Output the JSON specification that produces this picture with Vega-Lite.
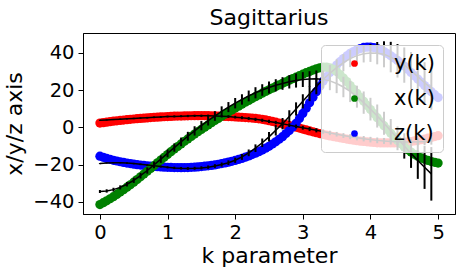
{
"$schema": "https://vega.github.io/schema/vega-lite/v6.json",
"width": 372, "height": 181,
"autosize": "none",
"padding": {"left": 83, "top": 33, "right": 8, "bottom": 62},
"background": "white",
"title": {"text": "Sagittarius", "fontSize": 22, "font": "DejaVu Sans", "fontWeight": "normal", "color": "black", "offset": 3},
"config": {
  "view": {"stroke": "black", "strokeWidth": 1},
  "axis": {"grid": false, "domainColor": "black", "tickColor": "black", "labelColor": "black", "titleColor": "black", "labelFont": "DejaVu Sans", "titleFont": "DejaVu Sans", "labelFontSize": 19.5, "titleFontSize": 22, "titleFontWeight": "normal", "tickSize": 5, "labelPadding": 4}
},
"datasets": {
"scatter": [
{"k":0,"x":-41.5,"y":2.3,"z":-15.5},{"k":0.05,"x":-40.5,"y":2.55,"z":-16.1},{"k":0.1,"x":-39.5,"y":2.8,"z":-16.7},{"k":0.15,"x":-38.4,"y":3.05,"z":-17.2},{"k":0.2,"x":-37.3,"y":3.3,"z":-17.7},{"k":0.25,"x":-36.1,"y":3.5,"z":-18.1},{"k":0.3,"x":-34.8,"y":3.7,"z":-18.5},{"k":0.35,"x":-33.5,"y":3.9,"z":-18.85},{"k":0.4,"x":-32.2,"y":4.1,"z":-19.2},{"k":0.45,"x":-30.9,"y":4.3,"z":-19.5},
{"k":0.5,"x":-29.5,"y":4.5,"z":-19.8},{"k":0.55,"x":-28.1,"y":4.65,"z":-20.05},{"k":0.6,"x":-26.6,"y":4.8,"z":-20.3},{"k":0.65,"x":-25.1,"y":4.95,"z":-20.5},{"k":0.7,"x":-23.6,"y":5.1,"z":-20.7},{"k":0.75,"x":-22.1,"y":5.25,"z":-20.85},{"k":0.8,"x":-20.6,"y":5.4,"z":-21.0},{"k":0.85,"x":-19.1,"y":5.5,"z":-21.15},{"k":0.9,"x":-17.6,"y":5.6,"z":-21.3},{"k":0.95,"x":-16.1,"y":5.7,"z":-21.4},
{"k":1.0,"x":-14.6,"y":5.8,"z":-21.5},{"k":1.05,"x":-13.1,"y":5.9,"z":-21.55},{"k":1.1,"x":-11.7,"y":6.0,"z":-21.6},{"k":1.15,"x":-10.3,"y":6.05,"z":-21.65},{"k":1.2,"x":-8.9,"y":6.1,"z":-21.7},{"k":1.25,"x":-7.5,"y":6.15,"z":-21.65},{"k":1.3,"x":-6.2,"y":6.2,"z":-21.6},{"k":1.35,"x":-4.9,"y":6.25,"z":-21.5},{"k":1.4,"x":-3.6,"y":6.3,"z":-21.4},{"k":1.45,"x":-2.3,"y":6.3,"z":-21.25},
{"k":1.5,"x":-1.1,"y":6.3,"z":-21.1},{"k":1.55,"x":0.1,"y":6.3,"z":-20.9},{"k":1.6,"x":1.3,"y":6.3,"z":-20.7},{"k":1.65,"x":2.5,"y":6.25,"z":-20.45},{"k":1.7,"x":3.7,"y":6.2,"z":-20.2},{"k":1.75,"x":4.8,"y":6.1,"z":-19.85},{"k":1.8,"x":6.0,"y":6.0,"z":-19.5},{"k":1.85,"x":7.1,"y":5.9,"z":-19.1},{"k":1.9,"x":8.2,"y":5.8,"z":-18.7},{"k":1.95,"x":9.3,"y":5.7,"z":-18.25},
{"k":2.0,"x":10.4,"y":5.6,"z":-17.8},{"k":2.05,"x":11.4,"y":5.5,"z":-17.25},{"k":2.1,"x":12.5,"y":5.4,"z":-16.7},{"k":2.15,"x":13.5,"y":5.28,"z":-16.05},{"k":2.2,"x":14.5,"y":5.15,"z":-15.4},{"k":2.25,"x":15.5,"y":5.0,"z":-14.65},{"k":2.3,"x":16.5,"y":4.8,"z":-13.9},{"k":2.35,"x":17.4,"y":4.57,"z":-13.05},{"k":2.4,"x":18.4,"y":4.3,"z":-12.2},{"k":2.45,"x":19.3,"y":3.97,"z":-11.2},
{"k":2.5,"x":20.2,"y":3.6,"z":-10.2},{"k":2.55,"x":21.1,"y":3.2,"z":-9.0},{"k":2.6,"x":22.0,"y":2.8,"z":-7.8},{"k":2.65,"x":22.8,"y":2.35,"z":-6.4},{"k":2.7,"x":23.7,"y":1.9,"z":-5.0},{"k":2.75,"x":24.5,"y":1.45,"z":-3.35},{"k":2.8,"x":25.4,"y":1.0,"z":-1.7},{"k":2.85,"x":26.2,"y":0.55,"z":0.2},{"k":2.9,"x":27.0,"y":0.1,"z":2.2},{"k":2.95,"x":27.8,"y":-0.4,"z":4.8},
{"k":3.0,"x":28.6,"y":-0.9,"z":7.5},{"k":3.05,"x":29.4,"y":-1.4,"z":10.3},{"k":3.1,"x":30.1,"y":-1.9,"z":13.2},{"k":3.15,"x":30.8,"y":-2.4,"z":16.2},{"k":3.2,"x":31.5,"y":-2.9,"z":19.2},{"k":3.25,"x":32.0,"y":-3.35,"z":22.0},{"k":3.3,"x":32.4,"y":-3.8,"z":24.8},{"k":3.35,"x":32.4,"y":-4.2,"z":27.2},{"k":3.4,"x":32.0,"y":-4.6,"z":29.5},{"k":3.45,"x":31.2,"y":-4.95,"z":31.5},
{"k":3.5,"x":30.0,"y":-5.3,"z":33.5},{"k":3.55,"x":28.4,"y":-5.65,"z":35.3},{"k":3.6,"x":26.5,"y":-6.0,"z":37.0},{"k":3.65,"x":24.6,"y":-6.3,"z":38.4},{"k":3.7,"x":22.5,"y":-6.6,"z":39.8},{"k":3.75,"x":20.4,"y":-6.9,"z":40.8},{"k":3.8,"x":18.3,"y":-7.2,"z":41.8},{"k":3.85,"x":16.2,"y":-7.4,"z":42.4},{"k":3.9,"x":14.0,"y":-7.6,"z":43.0},{"k":3.95,"x":11.8,"y":-7.8,"z":43.1},
{"k":4.0,"x":9.6,"y":-8.0,"z":43.2},{"k":4.05,"x":7.4,"y":-8.15,"z":42.9},{"k":4.1,"x":5.2,"y":-8.3,"z":42.4},{"k":4.15,"x":3.0,"y":-8.35,"z":41.6},{"k":4.2,"x":0.9,"y":-8.4,"z":40.8},{"k":4.25,"x":-1.2,"y":-8.4,"z":39.7},{"k":4.3,"x":-3.2,"y":-8.4,"z":38.5},{"k":4.35,"x":-5.1,"y":-8.35,"z":37.3},{"k":4.4,"x":-7.0,"y":-8.3,"z":36.0},{"k":4.45,"x":-8.8,"y":-8.15,"z":34.5},
{"k":4.5,"x":-10.5,"y":-8.0,"z":33.0},{"k":4.55,"x":-12.0,"y":-7.8,"z":31.3},{"k":4.6,"x":-13.3,"y":-7.6,"z":29.5},{"k":4.65,"x":-14.5,"y":-7.3,"z":27.8},{"k":4.7,"x":-15.5,"y":-7.0,"z":26.0},{"k":4.75,"x":-16.4,"y":-6.65,"z":24.3},{"k":4.8,"x":-17.2,"y":-6.3,"z":22.5},{"k":4.85,"x":-17.8,"y":-5.85,"z":20.9},{"k":4.9,"x":-18.4,"y":-5.4,"z":19.2},{"k":4.95,"x":-18.8,"y":-4.95,"z":17.6},
{"k":5.0,"x":-19.2,"y":-4.5,"z":16.0}
],
"model": [
{"k":0,"mx":-34.5,"ex":0.8,"my":3.8,"ey":0.3,"mz":-19.5,"ez":0.3},
{"k":0.1,"mx":-34.2,"ex":0.9,"my":4.0,"ey":0.3,"mz":-19.2,"ez":0.3},
{"k":0.2,"mx":-33.5,"ex":1.0,"my":4.2,"ey":0.3,"mz":-19.0,"ez":0.35},
{"k":0.3,"mx":-32.3,"ex":1.1,"my":4.4,"ey":0.35,"mz":-19.0,"ez":0.35},
{"k":0.4,"mx":-30.6,"ex":1.2,"my":4.6,"ey":0.35,"mz":-19.2,"ez":0.4},
{"k":0.5,"mx":-28.5,"ex":1.4,"my":4.8,"ey":0.4,"mz":-19.5,"ez":0.4},
{"k":0.6,"mx":-26.0,"ex":1.5,"my":5.0,"ey":0.4,"mz":-19.9,"ez":0.45},
{"k":0.7,"mx":-23.2,"ex":1.7,"my":5.2,"ey":0.45,"mz":-20.3,"ez":0.5},
{"k":0.8,"mx":-20.2,"ex":1.8,"my":5.4,"ey":0.45,"mz":-20.7,"ez":0.5},
{"k":0.9,"mx":-17.1,"ex":2.0,"my":5.6,"ey":0.5,"mz":-21.1,"ez":0.55},
{"k":1.0,"mx":-14.0,"ex":2.1,"my":5.8,"ey":0.5,"mz":-21.5,"ez":0.6},
{"k":1.1,"mx":-10.9,"ex":2.2,"my":5.9,"ey":0.55,"mz":-21.8,"ez":0.65},
{"k":1.2,"mx":-7.8,"ex":2.3,"my":6.0,"ey":0.55,"mz":-22.0,"ez":0.7},
{"k":1.3,"mx":-4.8,"ex":2.4,"my":6.1,"ey":0.6,"mz":-22.1,"ez":0.75},
{"k":1.4,"mx":-1.9,"ex":2.5,"my":6.2,"ey":0.6,"mz":-22.0,"ez":0.8},
{"k":1.5,"mx":0.9,"ex":2.5,"my":6.2,"ey":0.65,"mz":-21.8,"ez":0.85},
{"k":1.6,"mx":3.6,"ex":2.6,"my":6.2,"ey":0.65,"mz":-21.4,"ez":0.9},
{"k":1.7,"mx":6.1,"ex":2.6,"my":6.1,"ey":0.7,"mz":-20.8,"ez":1.0},
{"k":1.8,"mx":8.6,"ex":2.7,"my":6.0,"ey":0.7,"mz":-20.0,"ez":1.1},
{"k":1.9,"mx":10.9,"ex":2.7,"my":5.8,"ey":0.75,"mz":-19.0,"ez":1.25},
{"k":2.0,"mx":13.0,"ex":2.8,"my":5.5,"ey":0.75,"mz":-17.7,"ez":1.4},
{"k":2.1,"mx":15.0,"ex":2.8,"my":5.2,"ey":0.8,"mz":-15.9,"ez":1.6},
{"k":2.2,"mx":16.9,"ex":2.9,"my":4.8,"ey":0.8,"mz":-13.7,"ez":1.8},
{"k":2.3,"mx":18.6,"ex":3.0,"my":4.3,"ey":0.85,"mz":-11.2,"ez":2.05},
{"k":2.4,"mx":20.1,"ex":3.1,"my":3.8,"ey":0.85,"mz":-8.3,"ez":2.3},
{"k":2.5,"mx":21.4,"ex":3.2,"my":3.2,"ey":0.9,"mz":-5.1,"ez":2.55},
{"k":2.6,"mx":22.6,"ex":3.3,"my":2.6,"ey":0.9,"mz":-1.6,"ez":2.8},
{"k":2.7,"mx":23.6,"ex":3.4,"my":1.9,"ey":0.95,"mz":2.0,"ez":3.05},
{"k":2.8,"mx":24.5,"ex":3.6,"my":1.2,"ey":1.0,"mz":5.9,"ez":3.3},
{"k":2.9,"mx":25.2,"ex":3.8,"my":0.5,"ey":1.0,"mz":9.9,"ez":3.55},
{"k":3.0,"mx":25.7,"ex":4.0,"my":-0.2,"ey":1.05,"mz":14.0,"ez":3.8},
{"k":3.1,"mx":26.0,"ex":4.2,"my":-0.9,"ey":1.1,"mz":18.1,"ez":4.0},
{"k":3.2,"mx":26.1,"ex":4.5,"my":-1.6,"ey":1.1,"mz":22.0,"ez":4.2},
{"k":3.3,"mx":25.8,"ex":4.8,"my":-2.3,"ey":1.15,"mz":25.7,"ez":4.3},
{"k":3.4,"mx":25.0,"ex":5.0,"my":-3.0,"ey":1.2,"mz":29.1,"ez":4.4},
{"k":3.5,"mx":23.6,"ex":5.2,"my":-3.7,"ey":1.25,"mz":32.1,"ez":4.5},
{"k":3.6,"mx":21.7,"ex":5.5,"my":-4.4,"ey":1.3,"mz":34.8,"ez":4.6},
{"k":3.7,"mx":19.3,"ex":5.7,"my":-5.0,"ey":1.35,"mz":37.0,"ez":4.6},
{"k":3.8,"mx":16.5,"ex":5.9,"my":-5.6,"ey":1.4,"mz":38.6,"ez":4.6},
{"k":3.9,"mx":13.3,"ex":6.0,"my":-6.1,"ey":1.45,"mz":39.6,"ez":4.7},
{"k":4.0,"mx":9.8,"ex":6.1,"my":-6.6,"ey":1.5,"mz":40.0,"ez":4.8},
{"k":4.1,"mx":6.1,"ex":6.2,"my":-7.0,"ey":1.55,"mz":39.9,"ez":6.0},
{"k":4.2,"mx":2.2,"ex":6.2,"my":-7.3,"ey":1.6,"mz":39.3,"ez":7.0},
{"k":4.3,"mx":-1.8,"ex":6.3,"my":-7.6,"ey":1.65,"mz":37.8,"ez":8.2},
{"k":4.4,"mx":-5.9,"ex":6.4,"my":-7.8,"ey":1.7,"mz":35.8,"ez":9.0},
{"k":4.5,"mx":-10.0,"ex":6.8,"my":-7.9,"ey":1.75,"mz":33.5,"ez":9.5},
{"k":4.6,"mx":-14.0,"ex":7.8,"my":-7.9,"ey":1.8,"mz":30.5,"ez":10.0},
{"k":4.7,"mx":-17.8,"ex":9.9,"my":-7.8,"ey":1.85,"mz":27.3,"ez":10.5},
{"k":4.8,"mx":-21.5,"ex":11.6,"my":-7.6,"ey":1.9,"mz":24.0,"ez":11.0},
{"k":4.9,"mx":-25.0,"ex":14.4,"my":-7.3,"ey":2.0,"mz":21.0,"ez":11.5}
]
},
"encoding": {
  "x": {"field": "k", "type": "quantitative", "scale": {"domain": [-0.25, 5.25], "nice": false, "zero": false}, "axis": {"values": [0,1,2,3,4,5], "title": "k parameter", "titlePadding": 4}}
},
"layer": [
  {"data": {"name": "scatter"}, "mark": {"type": "point", "filled": true, "size": 85, "opacity": 1},
   "encoding": {
     "y": {"field": "y", "type": "quantitative", "title": "x/y/z axis", "scale": {"domain": [-46.6, 50.75], "nice": false, "zero": false}, "axis": {"values": [-40,-20,0,20,40], "titlePadding": 6}},
     "color": {"datum": "y(k)", "scale": {"domain": ["y(k)","x(k)","z(k)"], "range": ["#ff0000","#008000","#0000ff"]},
       "legend": {"orient": "none", "legendX": 238, "legendY": 12, "title": null, "padding": 8, "symbolOffset": 15, "labelOffset": 29, "rowPadding": 13, "symbolSize": 45, "symbolType": "circle", "symbolStrokeWidth": 0, "labelFont": "DejaVu Sans", "labelFontSize": 21, "labelColor": "black", "fillColor": "rgba(255,255,255,0.8)", "strokeColor": "#cccccc", "cornerRadius": 4}}
   }},
  {"data": {"name": "scatter"}, "mark": {"type": "point", "filled": true, "size": 85, "opacity": 1},
   "encoding": {
     "y": {"field": "z", "type": "quantitative", "title": "x/y/z axis"},
     "color": {"datum": "z(k)"}
   }},
  {"data": {"name": "scatter"}, "mark": {"type": "point", "filled": true, "size": 85, "opacity": 1},
   "encoding": {
     "y": {"field": "x", "type": "quantitative", "title": "x/y/z axis"},
     "color": {"datum": "x(k)"}
   }},
  {"data": {"name": "model"}, "mark": {"type": "line", "color": "black", "strokeWidth": 1.5},
   "encoding": {"y": {"field": "my", "type": "quantitative", "title": "x/y/z axis"}}},
  {"data": {"name": "model"}, "mark": {"type": "errorbar", "ticks": false, "thickness": 2, "color": "black"},
   "encoding": {"y": {"field": "my", "type": "quantitative", "title": "x/y/z axis"}, "yError": {"field": "ey"}}},
  {"data": {"name": "model"}, "mark": {"type": "line", "color": "black", "strokeWidth": 1.5},
   "encoding": {"y": {"field": "mx", "type": "quantitative", "title": "x/y/z axis"}}},
  {"data": {"name": "model"}, "mark": {"type": "errorbar", "ticks": false, "thickness": 2, "color": "black"},
   "encoding": {"y": {"field": "mx", "type": "quantitative", "title": "x/y/z axis"}, "yError": {"field": "ex"}}},
  {"data": {"name": "model"}, "mark": {"type": "line", "color": "black", "strokeWidth": 1.5},
   "encoding": {"y": {"field": "mz", "type": "quantitative", "title": "x/y/z axis"}}},
  {"data": {"name": "model"}, "mark": {"type": "errorbar", "ticks": false, "thickness": 2, "color": "black"},
   "encoding": {"y": {"field": "mz", "type": "quantitative", "title": "x/y/z axis"}, "yError": {"field": "ez"}}}
]
}
